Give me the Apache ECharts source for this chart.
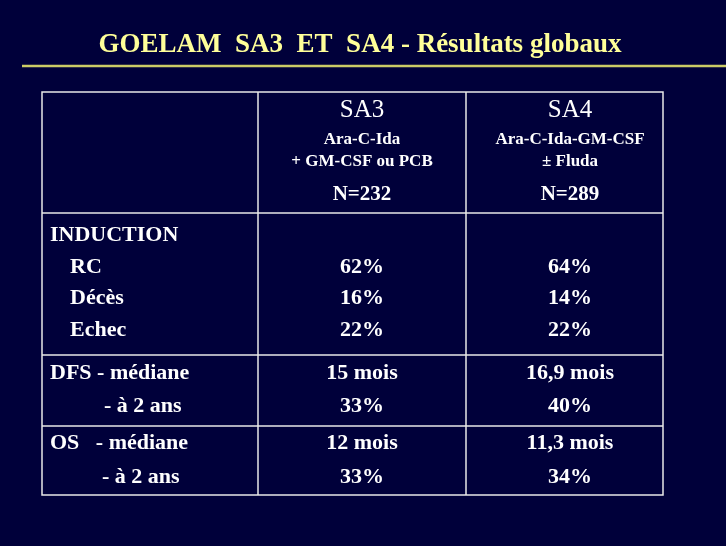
<!DOCTYPE html><html><head><meta charset="utf-8">
<script src="https://cdn.jsdelivr.net/npm/echarts@6/dist/echarts.min.js"></script>
<style>html,body{margin:0;background:#00003a}#c{width:726px;height:546px}</style></head><body><div id="c"></div>
<script>
const title = "GOELAM  SA3  ET  SA4 - Résultats globaux";
const groups = ["SA3", "SA4"];
const regimens = [["Ara-C-Ida", "+ GM-CSF ou PCB"], ["Ara-C-Ida-GM-CSF", "± Fluda"]];
const counts = ["N=232", "N=289"];
const rowLabels = ["INDUCTION", "RC", "Décès", "Echec", "DFS - médiane", "- à 2 ans", "OS   - médiane", "- à 2 ans"];
const sa3Values = ["", "62%", "16%", "22%", "15 mois", "33%", "12 mois", "33%"];
const sa4Values = ["", "64%", "14%", "22%", "16,9 mois", "40%", "11,3 mois", "34%"];

const rowY = [235, 267, 298, 330, 373, 406, 443, 477];
const rowX = [50, 70, 70, 70, 50, 104, 50, 102];
const colX = [362, 570];
const F = "'Liberation Serif','DejaVu Serif',serif";
const els = [];
function txt(x, y, s, size, align, color, weight) {
  els.push({type:'text', x, y, style:{text:s, fill:color||'#fff', font:`${weight||'bold'} ${size}px ${F}`, textAlign:align||'center', textVerticalAlign:'middle'}});
}
function line(x1,y1,x2,y2,c,w){els.push({type:'line',shape:{x1,y1,x2,y2},style:{stroke:c||'#e8e8e8',lineWidth:w||1.5}});}
txt(360, 45, title, 27, 'center', '#ffff99');
line(22, 66, 726, 66, '#cccc66', 2.5);
els.push({type:'rect',shape:{x:42,y:92,width:621,height:403},style:{fill:'none',stroke:'#e8e8e8',lineWidth:1.5}});
line(258,92,258,495); line(466,92,466,495);
line(42,213,663,213); line(42,355,663,355); line(42,426,663,426);
groups.forEach((g,i)=>{
  txt(colX[i],110,g,25,'center',null,'normal');
  txt(colX[i],140,regimens[i][0],17);
  txt(colX[i],162,regimens[i][1],17);
  txt(colX[i],195,counts[i],21);
});
rowLabels.forEach((l,i)=>{
  txt(rowX[i], rowY[i], l, 22, 'left');
  txt(colX[0], rowY[i], sa3Values[i], 22);
  txt(colX[1], rowY[i], sa4Values[i], 22);
});
const ch = echarts.init(document.getElementById('c'));
ch.setOption({backgroundColor:'#00003a', graphic: els});
</script></body></html>
